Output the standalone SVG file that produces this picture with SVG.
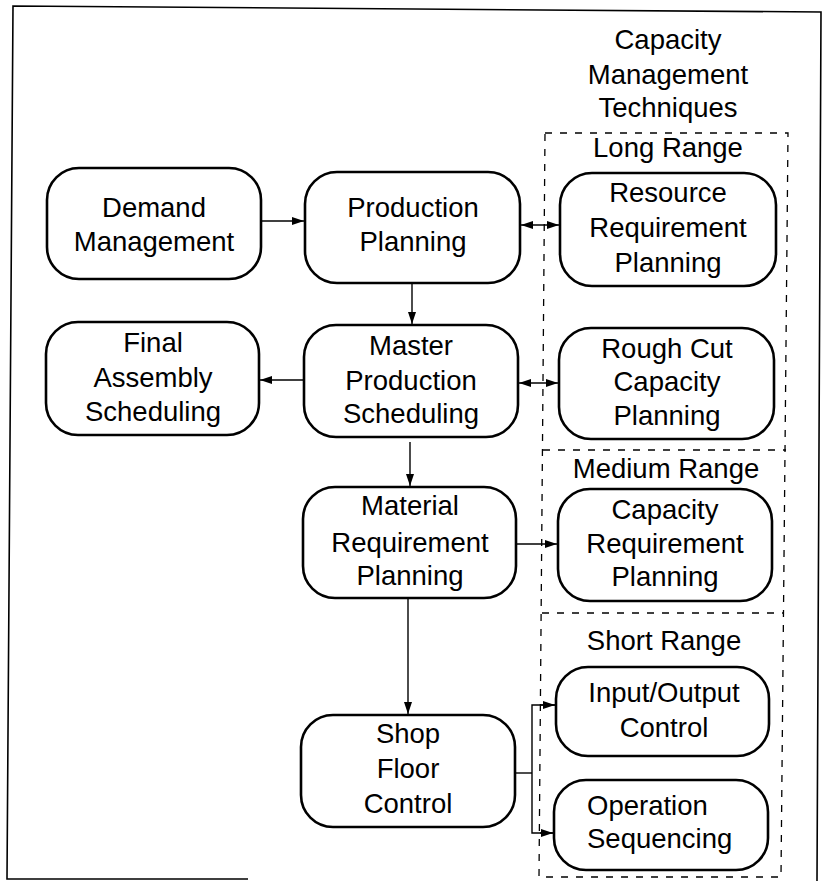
<svg xmlns="http://www.w3.org/2000/svg" width="824" height="881" viewBox="0 0 824 881">
<style>
.box{fill:#fff;stroke:#000;stroke-width:2.6}
.t{font-family:"Liberation Sans",Arial,sans-serif;font-size:27.5px;fill:#000;text-anchor:middle}
.c{fill:none;stroke:#000;stroke-width:1.4}
.d{fill:none;stroke:#000;stroke-width:1.3;stroke-dasharray:7 8}
.frame{fill:none;stroke:#000;stroke-width:1.6}
</style>
<defs>
<marker id="ah" viewBox="0 0 12 8" refX="12" refY="4" markerWidth="12" markerHeight="8" markerUnits="userSpaceOnUse" orient="auto-start-reverse">
<path d="M0,0 L12,4 L0,8 Z" fill="#000"/>
</marker>
</defs>
<rect width="824" height="881" fill="#fff"/>
<polyline class="frame" points="248,879 7,879 13,6 821,12 817,881"/>
<g id="range-boxes">
<path class="d" d="M545,133 L788,133 L781,877 L539,877 Z"/>
<line class="d" x1="543" y1="450" x2="786" y2="450"/>
<line class="d" x1="542" y1="613" x2="784" y2="613"/>
</g>
<g id="header">
<text class="t" x="668" y="49">Capacity</text>
<text class="t" x="668" y="84">Management</text>
<text class="t" x="668" y="117">Techniques</text>
</g>
<g id="label-long"><text class="t" x="668" y="157">Long Range</text></g>
<g id="label-medium"><text class="t" x="666" y="478">Medium Range</text></g>
<g id="label-short"><text class="t" x="664" y="650">Short Range</text></g>
<g id="connectors">
<line class="c" x1="261" y1="221" x2="304" y2="221" marker-end="url(#ah)"/>
<line class="c" x1="521" y1="225" x2="559" y2="225" marker-start="url(#ah)" marker-end="url(#ah)"/>
<line class="c" x1="412" y1="284" x2="412" y2="324" marker-end="url(#ah)"/>
<line class="c" x1="304" y1="380" x2="260" y2="380" marker-end="url(#ah)"/>
<line class="c" x1="519" y1="383" x2="558" y2="383" marker-start="url(#ah)" marker-end="url(#ah)"/>
<line class="c" x1="410" y1="442" x2="410" y2="486" marker-end="url(#ah)"/>
<line class="c" x1="517" y1="544" x2="557" y2="544" marker-end="url(#ah)"/>
<line class="c" x1="408" y1="599" x2="408" y2="714" marker-end="url(#ah)"/>
<polyline class="c" points="516,773 532,773"/>
<polyline class="c" points="555,705 532,705 532,833 553,833"/>
<line class="c" x1="540" y1="705" x2="555" y2="705" marker-end="url(#ah)"/>
<line class="c" x1="540" y1="833" x2="553" y2="833" marker-end="url(#ah)"/>
</g>
<g id="demand-management">
<rect class="box" x="47" y="168" width="214" height="111" rx="32"/>
<text class="t" x="154" y="217">Demand</text>
<text class="t" x="154" y="251">Management</text>
</g>
<g id="production-planning">
<rect class="box" x="305" y="172" width="215" height="111" rx="32"/>
<text class="t" x="413" y="217">Production</text>
<text class="t" x="413" y="251">Planning</text>
</g>
<g id="resource-requirement-planning">
<rect class="box" x="560" y="173" width="216" height="113" rx="32"/>
<text class="t" x="668" y="202">Resource</text>
<text class="t" x="668" y="237">Requirement</text>
<text class="t" x="668" y="272">Planning</text>
</g>
<g id="final-assembly-scheduling">
<rect class="box" x="46" y="322" width="213" height="113" rx="32"/>
<text class="t" x="153" y="352">Final</text>
<text class="t" x="153" y="387">Assembly</text>
<text class="t" x="153" y="421">Scheduling</text>
</g>
<g id="master-production-scheduling">
<rect class="box" x="304" y="325" width="214" height="112" rx="32"/>
<text class="t" x="411" y="355">Master</text>
<text class="t" x="411" y="390">Production</text>
<text class="t" x="411" y="423">Scheduling</text>
</g>
<g id="rough-cut-capacity-planning">
<rect class="box" x="559" y="328" width="215" height="111" rx="32"/>
<text class="t" x="667" y="358">Rough Cut</text>
<text class="t" x="667" y="391">Capacity</text>
<text class="t" x="667" y="425">Planning</text>
</g>
<g id="material-requirement-planning">
<rect class="box" x="303" y="487" width="213" height="111" rx="32"/>
<text class="t" x="410" y="515">Material</text>
<text class="t" x="410" y="552">Requirement</text>
<text class="t" x="410" y="585">Planning</text>
</g>
<g id="capacity-requirement-planning">
<rect class="box" x="558" y="489" width="214" height="112" rx="32"/>
<text class="t" x="665" y="519">Capacity</text>
<text class="t" x="665" y="553">Requirement</text>
<text class="t" x="665" y="586">Planning</text>
</g>
<g id="input-output-control">
<rect class="box" x="556" y="667" width="213" height="89" rx="32"/>
<text class="t" x="664" y="702">Input/Output</text>
<text class="t" x="664" y="737">Control</text>
</g>
<g id="operation-sequencing">
<rect class="box" x="554" y="780" width="214" height="90" rx="32"/>
<text class="t" x="587" y="815" style="text-anchor:start">Operation</text>
<text class="t" x="587" y="848" style="text-anchor:start">Sequencing</text>
</g>
<g id="shop-floor-control">
<rect class="box" x="301" y="715" width="214" height="112" rx="32"/>
<text class="t" x="408" y="743">Shop</text>
<text class="t" x="408" y="778">Floor</text>
<text class="t" x="408" y="813">Control</text>
</g>
</svg>
